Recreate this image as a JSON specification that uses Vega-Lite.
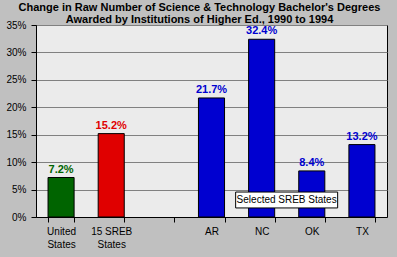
{
  "$schema": "https://vega.github.io/schema/vega-lite/v6.json",
  "width": 351,
  "height": 192,
  "autosize": {"type": "none"},
  "padding": {"left": 36, "top": 25, "right": 10, "bottom": 40},
  "background": "#c0c0c0",
  "title": {
    "text": ["Change in Raw Number of Science & Technology Bachelor's Degrees", "Awarded by Institutions of Higher Ed., 1990 to 1994"],
    "font": "Liberation Sans",
    "fontSize": 11,
    "fontWeight": "bold",
    "color": "black",
    "lineHeight": 12,
    "offset": -5,
    "dx": -12
  },
  "config": {
    "view": {"fill": "#ebebeb", "stroke": "black", "strokeWidth": 1},
    "axis": {"labelFont": "Liberation Sans", "labelFontSize": 10, "labelColor": "black", "domainColor": "black", "tickColor": "black", "tickSize": 5, "labelOverlap": false}
  },
  "data": {
    "values": [
      {"group": "United States", "change": 0.072, "kind": "US"},
      {"group": "15 SREB States", "change": 0.152, "kind": "SREB"},
      {"group": "AR", "change": 0.217, "kind": "State"},
      {"group": "NC", "change": 0.324, "kind": "State"},
      {"group": "OK", "change": 0.084, "kind": "State"},
      {"group": "TX", "change": 0.132, "kind": "State"}
    ]
  },
  "encoding": {
    "x": {
      "field": "group",
      "type": "nominal",
      "sort": null,
      "scale": {"domain": ["United States", "15 SREB States", "gap", "AR", "NC", "OK", "TX"], "paddingInner": 0.48, "paddingOuter": 0.24},
      "axis": {
        "title": null,
        "labelAngle": 0,
        "tickBand": "extent",
        "labelPadding": 4,
        "labelLineHeight": 13,
        "labelBaseline": "top",
        "labelExpr": "datum.value == 'United States' ? ['United', 'States'] : datum.value == '15 SREB States' ? ['15 SREB', 'States'] : datum.value == 'gap' ? '' : datum.value"
      }
    },
    "y": {
      "field": "change",
      "type": "quantitative",
      "scale": {"domain": [0, 0.35], "nice": false},
      "axis": {"title": null, "format": ".0%", "values": [0, 0.05, 0.1, 0.15, 0.2, 0.25, 0.3, 0.35], "grid": true, "gridColor": "#808080", "gridOpacity": 1, "labelPadding": 5}
    }
  },
  "layer": [
    {
      "mark": {"type": "bar", "stroke": "black", "strokeWidth": 1},
      "encoding": {
        "color": {
          "field": "kind",
          "type": "nominal",
          "scale": {"domain": ["US", "SREB", "State"], "range": ["#006400", "#e00000", "#0000d0"]},
          "legend": null
        }
      }
    },
    {
      "mark": {"type": "text", "font": "Liberation Sans", "fontSize": 11, "fontWeight": "bold", "dy": -8},
      "encoding": {
        "text": {"field": "change", "type": "quantitative", "format": ".1%"},
        "color": {"field": "kind", "type": "nominal", "legend": null}
      }
    },
    {
      "data": {"values": [{"group": "NC", "top": 0.0455, "bottom": 0.0165, "label": "Selected SREB States"}]},
      "mark": {"type": "bar", "fill": "white", "stroke": "black", "strokeWidth": 1, "width": 102, "xOffset": 25},
      "encoding": {
        "y": {"field": "top", "type": "quantitative", "axis": {"title": null, "format": ".0%", "values": [0, 0.05, 0.1, 0.15, 0.2, 0.25, 0.3, 0.35], "grid": true, "gridColor": "#808080", "gridOpacity": 1, "labelPadding": 5}},
        "y2": {"field": "bottom"}
      }
    },
    {
      "data": {"values": [{"group": "NC", "mid": 0.031, "label": "Selected SREB States"}]},
      "mark": {"type": "text", "font": "Liberation Sans", "fontSize": 10, "color": "black", "dx": 25},
      "encoding": {
        "y": {"field": "mid", "type": "quantitative", "axis": {"title": null, "format": ".0%", "values": [0, 0.05, 0.1, 0.15, 0.2, 0.25, 0.3, 0.35], "grid": true, "gridColor": "#808080", "gridOpacity": 1, "labelPadding": 5}},
        "text": {"field": "label"}
      }
    }
  ]
}
